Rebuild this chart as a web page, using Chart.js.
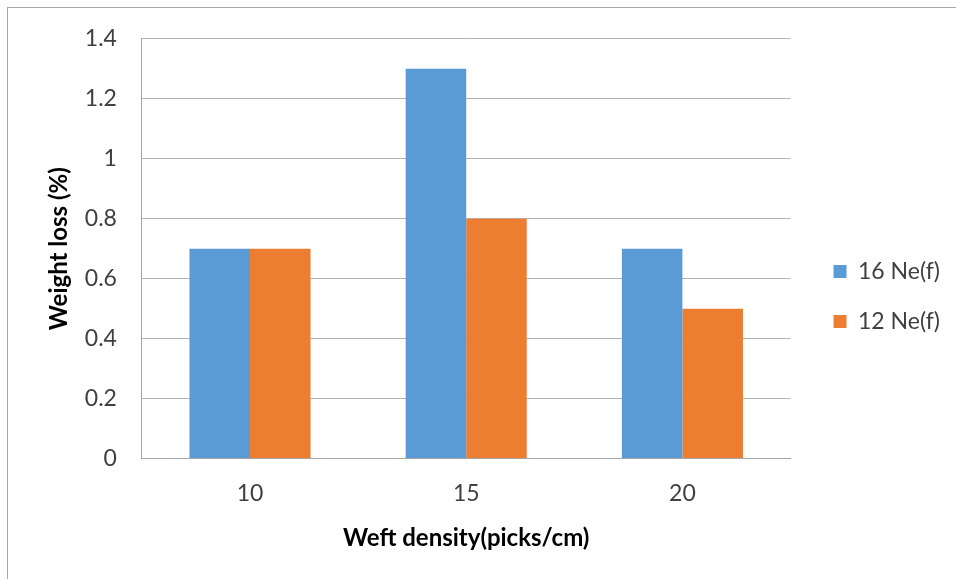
<!DOCTYPE html>
<html>
<head>
<meta charset="utf-8">
<script src="https://cdn.jsdelivr.net/npm/chart.js@4"></script>
<style>
    html, body { margin: 0; padding: 0; background: #fff; }
    #wrap { position: relative; width: 956px; height: 579px; }
    #frame {
        position: absolute; left: 7px; top: 7px; right: 0; bottom: 0;
        border-left: 1px solid #a6a6a6; border-top: 1px solid #a6a6a6;
        pointer-events: none;
    }
</style>
</head>
<body>
<div id="wrap">
    <canvas id="weightChart" width="956" height="579"></canvas>
    <div id="frame"></div>
</div>
<script>
const categories = ['10', '15', '20'];
const ne16 = [0.7, 1.3, 0.7];
const ne12 = [0.7, 0.8, 0.5];
const seriesNames = ['16 Ne(f)', '12 Ne(f)'];

const fontFamily = "Lato, 'Open Sans', sans-serif";
const legendGap = 16;

// widen the legend box and push its items right, so there is more room
// between the plot and the legend than labels.padding alone gives
const legendGapPlugin = {
    id: 'legendGap',
    afterInit(chart) {
        const legend = chart.legend;
        const origFit = legend.fit;
        legend.fit = function () {
            origFit.call(this);
            this.width += legendGap;
        };
    },
    afterLayout(chart) {
        chart.legend.left += legendGap;
        chart.legend.adjustHitBoxes();
    }
};

const ctx = document.getElementById('weightChart').getContext('2d');
new Chart(ctx, {
    type: 'bar',
    data: {
        labels: categories,
        datasets: [
            {
                label: seriesNames[0],
                data: ne16,
                backgroundColor: '#5b9bd5',
                categoryPercentage: 0.56,
                barPercentage: 1.0
            },
            {
                label: seriesNames[1],
                data: ne12,
                backgroundColor: '#ed7d31',
                categoryPercentage: 0.56,
                barPercentage: 1.0
            }
        ]
    },
    options: {
        responsive: false,
        animation: false,
        layout: {
            padding: { left: 45, top: 24, right: 6, bottom: 26 }
        },
        scales: {
            x: {
                grid: { display: false, drawTicks: false },
                border: { color: '#a6a6a6', width: 1 },
                ticks: {
                    color: '#404040',
                    padding: 21,
                    font: { family: fontFamily, size: 23 }
                },
                title: {
                    display: true,
                    text: 'Weft density(picks/cm)',
                    color: '#000',
                    padding: { top: -4, bottom: 0 },
                    font: { family: fontFamily, size: 24, weight: 'bold' }
                }
            },
            y: {
                min: 0,
                max: 1.4,
                ticks: {
                    stepSize: 0.2,
                    color: '#404040',
                    padding: 25,
                    font: { family: fontFamily, size: 23 },
                    callback: (value) => String(+value.toFixed(1))
                },
                grid: { color: '#b3b3b3', drawTicks: false },
                border: { color: '#a6a6a6', width: 1 },
                title: {
                    display: true,
                    text: 'Weight loss (%)',
                    color: '#000',
                    padding: { top: 0, bottom: -14 },
                    font: { family: fontFamily, size: 24, weight: 'bold' }
                }
            }
        },
        plugins: {
            tooltip: { enabled: false },
            legend: {
                position: 'right',
                title: {
                    display: true,
                    text: ' ',
                    font: { size: 1 },
                    padding: { top: 15, bottom: 0 }
                },
                labels: {
                    color: '#404040',
                    boxWidth: 13,
                    boxHeight: 13,
                    padding: 27,
                    font: { family: fontFamily, size: 23 }
                }
            }
        }
    },
    plugins: [legendGapPlugin]
});
</script>
</body>
</html>
